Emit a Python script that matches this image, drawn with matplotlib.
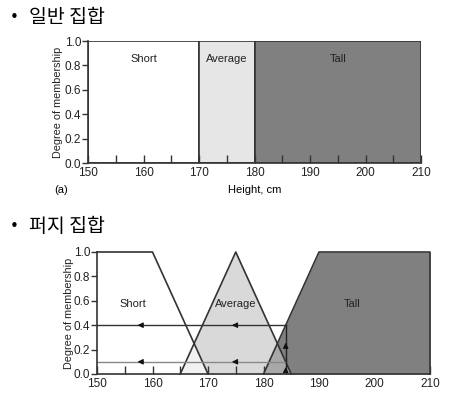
import numpy as np
import matplotlib
matplotlib.use("Agg")
import matplotlib.pyplot as plt
from matplotlib.patches import Rectangle

# crisp sets (top)
crisp_names = ["Short", "Average", "Tall"]
crisp_edges = [150, 170, 180, 210]
crisp_colors = ["#ffffff", "#e6e6e6", "#808080"]
crisp_label_x = [160, 175, 195]

# fuzzy sets (bottom)
short_x = [150, 160, 170]
short_mu = [1.0, 1.0, 0.0]
avg_x = [165, 175, 185]
avg_mu = [0.0, 1.0, 0.0]
tall_x = [180, 190, 210]
tall_mu = [0.0, 1.0, 1.0]
fuzzy_label_x = [156.5, 175, 196]

height_in = 184
mu_tall = 0.4
mu_avg = 0.1

x_major = [150, 160, 170, 180, 190, 200, 210]
y_ticks = [0.0, 0.2, 0.4, 0.6, 0.8, 1.0]

plt.rcParams['font.family'] = ['Liberation Sans', 'DejaVu Sans']
line_c = "#333333"
W, H = 467, 395


def style_axes(ax):
    ax.set_xlim(150, 210)
    ax.set_ylim(0, 1)
    ax.spines['top'].set_visible(False)
    ax.spines['right'].set_visible(False)
    for s in ['left', 'bottom']:
        ax.spines[s].set_color(line_c)
        ax.spines[s].set_linewidth(1.2)
    ax.set_xticks(x_major)
    ax.set_xticks(np.arange(155, 210, 10), minor=True)
    ax.set_yticks(y_ticks)
    ax.set_yticklabels(["%.1f" % v for v in y_ticks])
    ax.tick_params(axis='x', which='both', direction='in', length=6,
                   width=1, color=line_c, labelsize=8.5, pad=3,
                   labelcolor="#222222")
    ax.tick_params(axis='y', direction='out', length=4, width=1,
                   color=line_c, labelsize=8.5, pad=1, labelcolor="#222222")
    ax.set_ylabel("Degree of membership", fontsize=7.8, color="#222222")
    ax.set_facecolor("white")


fig = plt.figure(figsize=(W / 100, H / 100), dpi=100)

# titles
for ty, txt in [(17, "일반 집합"), (226, "퍼지 집합")]:
    fig.text(10 / W, 1 - ty / H, "•", fontsize=11, va='center', ha='left',
             family=['DejaVu Sans'])
    fig.text(29 / W, 1 - ty / H, txt, fontsize=14, va='center', ha='left',
             family=['Noto Sans CJK KR', 'DejaVu Sans'])

# ---- crisp
ax1 = fig.add_axes([88 / W, 1 - 163 / H, 333 / W, 122 / H])
for i, name in enumerate(crisp_names):
    x0, x1 = crisp_edges[i], crisp_edges[i + 1]
    ax1.add_patch(Rectangle((x0, 0), x1 - x0, 1, facecolor=crisp_colors[i],
                            edgecolor=line_c, linewidth=1.2, zorder=1))
    ax1.text(crisp_label_x[i], 0.85, name, fontsize=8, ha='center',
             va='center', color="#222222")
style_axes(ax1)
ax1.yaxis.set_label_coords(-0.075, 0.5)
fig.text(61 / W, 1 - 190 / H, "(a)", fontsize=8, ha='center', va='center')
fig.text(255 / W, 1 - 190 / H, "Height, cm", fontsize=8, ha='center',
         va='center')

# ---- fuzzy
ax2 = fig.add_axes([97 / W, 1 - 374 / H, 333 / W, 122 / H])
xs = np.linspace(150, 210, 1201)
s_mu = np.interp(xs, short_x, short_mu)
a_mu = np.interp(xs, avg_x, avg_mu)
t_mu = np.interp(xs, tall_x, tall_mu)

ax2.fill_between(xs, 0, a_mu, color="#d9d9d9", lw=0, zorder=1)
ax2.fill_between(xs, 0, t_mu, color="#808080", lw=0, zorder=2)
ax2.fill_between(xs, 0, np.minimum(a_mu, t_mu), color="#a8a8a8", lw=0,
                 zorder=3)
ax2.fill_between(xs, 0, np.minimum(a_mu, s_mu), color="#f2f2f2", lw=0,
                 zorder=3)

ax2.plot(short_x, short_mu, color=line_c, lw=1.2, zorder=5, clip_on=False)
ax2.plot(avg_x, avg_mu, color=line_c, lw=1.2, zorder=5, clip_on=False)
ax2.plot(tall_x + [210], tall_mu + [0], color=line_c, lw=1.2, zorder=5,
         clip_on=False)

# projection lines
ax2.plot([150, height_in], [mu_tall, mu_tall], color=line_c, lw=1, zorder=6)
ax2.plot([150, height_in], [mu_avg, mu_avg], color="#888888", lw=1, zorder=6)
ax2.plot([height_in, height_in], [0, mu_tall], color="#222222", lw=1, zorder=6)
for yv in [mu_tall, mu_avg]:
    for xv in [158, 175]:
        ax2.annotate("", xy=(xv - 1.2, yv), xytext=(xv + 0.5, yv),
                     arrowprops=dict(arrowstyle="-|>", color="#111111",
                                     lw=0.8, mutation_scale=8), zorder=7)
for yv in [0.0, 0.2]:
    ax2.annotate("", xy=(height_in, yv + 0.08), xytext=(height_in, yv),
                 arrowprops=dict(arrowstyle="-|>", color="#111111",
                                 lw=0.8, mutation_scale=8), zorder=7)

labels_f = ["Short", "Average", "Tall"]
for name, lx in zip(labels_f, fuzzy_label_x):
    ax2.text(lx, 0.57, name, fontsize=8, ha='center', va='center',
             color="#222222", zorder=8)
style_axes(ax2)
for s in ['left', 'bottom']:
    ax2.spines[s].set_zorder(9)
ax2.yaxis.set_label_coords(-0.07, 0.5)

fig.savefig("out.png", dpi=100)
